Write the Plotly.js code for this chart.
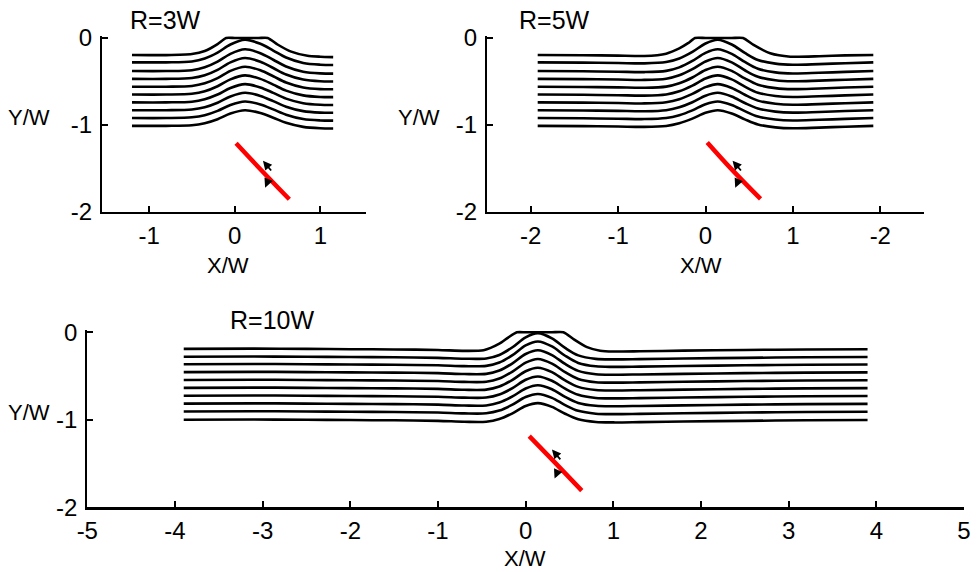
<!DOCTYPE html>
<html><head><meta charset="utf-8">
<script src="https://cdn.plot.ly/plotly-3.0.1.min.js"></script>
<style>html,body{margin:0;padding:0;background:#fff}#chart{width:979px;height:572px}</style>
</head><body><div id="chart"></div>
<script>
// ---------- DATA ----------
const panelTitles = ['R=3W', 'R=5W', 'R=10W'];
const xAxisTitle = 'X/W';
const yAxisTitle = 'Y/W';

const r3_xTickVals = [-1, 0, 1];
const r3_xTickText = ['-1', '0', '1'];
const r5_xTickVals = [-2, -1, 0, 1, 2];
const r5_xTickText = ['-2', '-1', '0', '1', '-2'];
const r10_xTickVals = [-5, -4, -3, -2, -1, 0, 1, 2, 3, 4, 5];
const r10_xTickText = ['-5', '-4', '-3', '-2', '-1', '0', '1', '2', '3', '4', '5'];
const yTickVals = [0, -1, -2];
const yTickText = ['0', '-1', '-2'];

// R=3W : deformed layers (bottom -> second from top), shared x samples
const r3_x = [-1.2, -0.8, -0.5, -0.35, -0.2, -0.05, 0.12, 0.3, 0.45, 0.6, 0.8, 1.0, 1.15];
const r3_lines = [
  [-1.01, -1.01, -1.003, -0.979, -0.933, -0.868, -0.83, -0.862, -0.916, -0.975, -1.022, -1.038, -1.04],
  [-0.92, -0.92, -0.912, -0.888, -0.838, -0.77, -0.73, -0.764, -0.821, -0.882, -0.932, -0.948, -0.95],
  [-0.83, -0.83, -0.822, -0.796, -0.744, -0.672, -0.63, -0.666, -0.726, -0.79, -0.841, -0.858, -0.86],
  [-0.74, -0.74, -0.732, -0.704, -0.65, -0.574, -0.53, -0.568, -0.631, -0.697, -0.75, -0.768, -0.77],
  [-0.65, -0.65, -0.641, -0.613, -0.555, -0.476, -0.43, -0.47, -0.536, -0.605, -0.66, -0.678, -0.68],
  [-0.56, -0.56, -0.551, -0.521, -0.461, -0.378, -0.33, -0.371, -0.44, -0.512, -0.569, -0.588, -0.59],
  [-0.47, -0.47, -0.46, -0.429, -0.367, -0.28, -0.23, -0.273, -0.345, -0.42, -0.478, -0.498, -0.5],
  [-0.38, -0.38, -0.37, -0.337, -0.272, -0.182, -0.13, -0.175, -0.25, -0.327, -0.387, -0.407, -0.41],
  [-0.28, -0.28, -0.27, -0.236, -0.168, -0.075, -0.02, -0.067, -0.145, -0.225, -0.287, -0.307, -0.31]
];
const r3_top_x = [-1.2, -0.8, -0.5, -0.35, -0.2, -0.1, 0.0, 0.28, 0.385, 0.5, 0.66, 0.85, 1.0, 1.15];
const r3_top_y = [-0.195, -0.197, -0.185, -0.15, -0.07, 0, 0, 0, 0, -0.075, -0.157, -0.205, -0.215, -0.22];
const r3_fault_x = [0.016, 0.308, 0.638];
const r3_fault_y = [-1.21, -1.517, -1.854];

// R=5W
const r5_x = [-1.92, -1.4, -1.0, -0.7, -0.45, -0.3, -0.15, 0.0, 0.14, 0.3, 0.45, 0.6, 0.8, 1.0, 1.3, 1.6, 1.92];
const r5_lines = [
  [-1.01, -1.013, -1.018, -1.022, -1.011, -0.98, -0.927, -0.86, -0.83, -0.868, -0.935, -0.994, -1.027, -1.038, -1.03, -1.02, -1.01],
  [-0.92, -0.923, -0.928, -0.932, -0.92, -0.888, -0.832, -0.761, -0.73, -0.77, -0.841, -0.903, -0.937, -0.948, -0.94, -0.93, -0.92],
  [-0.83, -0.833, -0.838, -0.842, -0.83, -0.796, -0.738, -0.663, -0.63, -0.672, -0.747, -0.811, -0.846, -0.858, -0.85, -0.84, -0.83],
  [-0.74, -0.743, -0.748, -0.752, -0.739, -0.705, -0.643, -0.565, -0.53, -0.574, -0.653, -0.72, -0.756, -0.768, -0.76, -0.75, -0.74],
  [-0.65, -0.653, -0.658, -0.662, -0.649, -0.613, -0.548, -0.466, -0.43, -0.476, -0.559, -0.629, -0.666, -0.678, -0.67, -0.66, -0.65],
  [-0.56, -0.563, -0.568, -0.572, -0.559, -0.521, -0.454, -0.368, -0.33, -0.378, -0.465, -0.537, -0.576, -0.588, -0.58, -0.57, -0.56],
  [-0.47, -0.473, -0.478, -0.482, -0.468, -0.429, -0.359, -0.27, -0.23, -0.28, -0.371, -0.446, -0.486, -0.498, -0.49, -0.48, -0.47],
  [-0.38, -0.383, -0.388, -0.392, -0.378, -0.338, -0.264, -0.171, -0.13, -0.182, -0.276, -0.354, -0.395, -0.408, -0.4, -0.39, -0.38],
  [-0.28, -0.283, -0.288, -0.292, -0.277, -0.236, -0.16, -0.063, -0.02, -0.075, -0.172, -0.253, -0.295, -0.308, -0.3, -0.29, -0.28]
];
const r5_top_x = [-1.92, -1.4, -1.0, -0.7, -0.45, -0.3, -0.2, -0.12, 0.0, 0.3, 0.43, 0.55, 0.74, 0.97, 1.3, 1.6, 1.92];
const r5_top_y = [-0.195, -0.198, -0.203, -0.207, -0.18, -0.12, -0.06, 0, 0, 0, 0, -0.08, -0.176, -0.215, -0.21, -0.2, -0.195];
const r5_fault_x = [0.02, 0.3, 0.63];
const r5_fault_y = [-1.2, -1.51, -1.85];

// R=10W
const r10_x = [-3.9, -3.1, -2.5, -2.0, -1.5, -1.0, -0.7, -0.45, -0.3, -0.15, 0.0, 0.14, 0.3, 0.45, 0.6, 0.8, 1.0, 1.3, 1.8, 2.5, 3.2, 3.9];
const r10_lines = [
  [-1.0, -0.997, -1.0, -1.003, -1.006, -1.012, -1.022, -1.022, -0.991, -0.926, -0.843, -0.81, -0.852, -0.931, -0.994, -1.025, -1.03, -1.027, -1.02, -1.012, -1.006, -1.003],
  [-0.905, -0.902, -0.905, -0.908, -0.911, -0.917, -0.927, -0.926, -0.895, -0.827, -0.74, -0.705, -0.749, -0.832, -0.898, -0.93, -0.935, -0.932, -0.925, -0.917, -0.911, -0.908],
  [-0.815, -0.812, -0.815, -0.818, -0.821, -0.827, -0.837, -0.836, -0.803, -0.733, -0.642, -0.605, -0.651, -0.738, -0.807, -0.84, -0.845, -0.842, -0.835, -0.827, -0.821, -0.818],
  [-0.725, -0.722, -0.725, -0.728, -0.731, -0.737, -0.747, -0.746, -0.712, -0.638, -0.543, -0.505, -0.554, -0.644, -0.715, -0.75, -0.755, -0.752, -0.745, -0.737, -0.731, -0.728],
  [-0.635, -0.632, -0.635, -0.638, -0.641, -0.647, -0.657, -0.655, -0.62, -0.544, -0.445, -0.405, -0.456, -0.55, -0.624, -0.66, -0.665, -0.662, -0.655, -0.647, -0.641, -0.638],
  [-0.545, -0.542, -0.545, -0.548, -0.551, -0.557, -0.567, -0.565, -0.529, -0.449, -0.347, -0.305, -0.358, -0.456, -0.533, -0.57, -0.575, -0.572, -0.565, -0.557, -0.551, -0.548],
  [-0.455, -0.452, -0.455, -0.458, -0.461, -0.467, -0.477, -0.475, -0.437, -0.355, -0.248, -0.205, -0.26, -0.362, -0.441, -0.479, -0.485, -0.482, -0.475, -0.467, -0.461, -0.458],
  [-0.365, -0.362, -0.365, -0.368, -0.371, -0.377, -0.387, -0.384, -0.346, -0.261, -0.15, -0.105, -0.162, -0.268, -0.35, -0.389, -0.395, -0.392, -0.385, -0.377, -0.371, -0.368],
  [-0.28, -0.277, -0.28, -0.283, -0.286, -0.292, -0.302, -0.299, -0.259, -0.171, -0.057, -0.01, -0.07, -0.179, -0.264, -0.304, -0.31, -0.307, -0.3, -0.292, -0.286, -0.283]
];
const r10_top_x = [-3.9, -3.1, -2.5, -2.0, -1.5, -1.0, -0.7, -0.48, -0.3, -0.2, -0.1, 0.0, 0.3, 0.43, 0.55, 0.7, 0.85, 1.0, 1.3, 1.8, 2.5, 3.2, 3.9];
const r10_top_y = [-0.19, -0.187, -0.19, -0.193, -0.196, -0.202, -0.212, -0.205, -0.13, -0.06, 0, 0, 0, 0, -0.08, -0.17, -0.21, -0.22, -0.217, -0.21, -0.202, -0.196, -0.193];
const r10_fault_x = [0.041, 0.335, 0.64];
const r10_fault_y = [-1.186, -1.49, -1.81];

// slip-sense arrows: [tailX, tailY, headX, headY]
const r3_arrows = [[0.44, -1.54, 0.33, -1.41], [0.385, -1.65, 0.355, -1.72]];
const r5_arrows = [[0.42, -1.54, 0.31, -1.41], [0.37, -1.65, 0.34, -1.72]];
const r10_arrows = [[0.41, -1.47, 0.30, -1.34], [0.36, -1.6, 0.33, -1.67]];

// ---------- BUILD ----------
const FONT = 'Liberation Sans, Arial, sans-serif';
const traces = [];
function addPanel(xa, ya, xs, lines, topX, topY, fx, fy) {
  lines.forEach(ys => traces.push({
    x: xs, y: ys, xaxis: xa, yaxis: ya, type: 'scatter', mode: 'lines',
    line: {color: '#000', width: 2.6, shape: 'spline', smoothing: 0.9}, hoverinfo: 'skip'
  }));
  traces.push({x: topX, y: topY, xaxis: xa, yaxis: ya, type: 'scatter', mode: 'lines',
    line: {color: '#000', width: 2.6, shape: 'spline', smoothing: 0.6}, hoverinfo: 'skip'});
  traces.push({x: fx, y: fy, xaxis: xa, yaxis: ya, type: 'scatter', mode: 'lines',
    line: {color: '#ff0000', width: 4.5, shape: 'spline'}, hoverinfo: 'skip'});
}
addPanel('x', 'y', r3_x, r3_lines, r3_top_x, r3_top_y, r3_fault_x, r3_fault_y);
addPanel('x2', 'y2', r5_x, r5_lines, r5_top_x, r5_top_y, r5_fault_x, r5_fault_y);
addPanel('x3', 'y3', r10_x, r10_lines, r10_top_x, r10_top_y, r10_fault_x, r10_fault_y);

function xAxis(domain, range, vals, text, anchor) {
  return {domain, range, anchor, tickmode: 'array', tickvals: vals, ticktext: text,
    showline: true, linecolor: '#000', linewidth: 2.2, ticks: 'inside', ticklen: 6,
    tickwidth: 2, tickcolor: '#000', showgrid: false, zeroline: false, fixedrange: true,
    ticklabelstandoff: 1, tickfont: {family: FONT, size: 24, color: '#000'}};
}
function yAxis(domain, anchor) {
  return {domain, range: [-2, 0.025], anchor, tickmode: 'array', tickvals: yTickVals, ticktext: yTickText,
    showline: true, linecolor: '#000', linewidth: 2.2, ticks: 'inside', ticklen: 6,
    tickwidth: 2, tickcolor: '#000', showgrid: false, zeroline: false, fixedrange: true,
    ticklabelstandoff: 3, tickfont: {family: FONT, size: 24, color: '#000'}};
}

const annotations = [];
function arrows(list, xa, ya) {
  list.forEach(a => annotations.push({
    x: a[2], y: a[3], ax: a[0], ay: a[1], xref: xa, yref: ya, axref: xa, ayref: ya,
    text: '', showarrow: true, arrowhead: 2, arrowsize: 1, arrowwidth: 1.8, arrowcolor: '#000'
  }));
}
arrows(r3_arrows, 'x', 'y');
arrows(r5_arrows, 'x2', 'y2');
arrows(r10_arrows, 'x3', 'y3');

function txt(t, x, y, size, xanchor) {
  annotations.push({text: t, x: x, y: y, xref: 'paper', yref: 'paper', xanchor: xanchor || 'center',
    yanchor: 'middle', showarrow: false, font: {family: FONT, size: size, color: '#000'}});
}
txt(panelTitles[0], 128 / 979, 1 - 20 / 572, 25, 'left');
txt(panelTitles[1], 517 / 979, 1 - 20 / 572, 25, 'left');
txt(panelTitles[2], 228 / 979, 1 - 320 / 572, 25, 'left');
txt(yAxisTitle, 29 / 979, 1 - 118 / 572, 22);
txt(yAxisTitle, 419 / 979, 1 - 118 / 572, 22);
txt(yAxisTitle, 29 / 979, 1 - 412 / 572, 22);
txt(xAxisTitle, 228 / 979, 1 - 265 / 572, 22);
txt(xAxisTitle, 701 / 979, 1 - 265 / 572, 22);
txt(xAxisTitle, 525 / 979, 1 - 558 / 572, 22);

const layout = {
  width: 979, height: 572, margin: {l: 0, r: 0, t: 0, b: 0},
  paper_bgcolor: '#fff', plot_bgcolor: 'rgba(0,0,0,0)', showlegend: false,
  xaxis: xAxis([102 / 979, 365.7 / 979], [-1.55, 1.53], r3_xTickVals, r3_xTickText, 'y'),
  yaxis: yAxis([1 - 212 / 572, 1 - 35.8 / 572], 'x'),
  xaxis2: xAxis([487 / 979, 924 / 979], [-2.5, 2.5], r5_xTickVals, r5_xTickText, 'y2'),
  yaxis2: yAxis([1 - 212 / 572, 1 - 35.8 / 572], 'x2'),
  xaxis3: xAxis([87.3 / 979, 964 / 979], [-5, 5], r10_xTickVals, r10_xTickText, 'y3'),
  yaxis3: yAxis([1 - 507.3 / 572, 1 - 330.1 / 572], 'x3'),
  annotations: annotations
};
Plotly.newPlot('chart', traces, layout, {displayModeBar: false, staticPlot: true});
</script></body></html>
